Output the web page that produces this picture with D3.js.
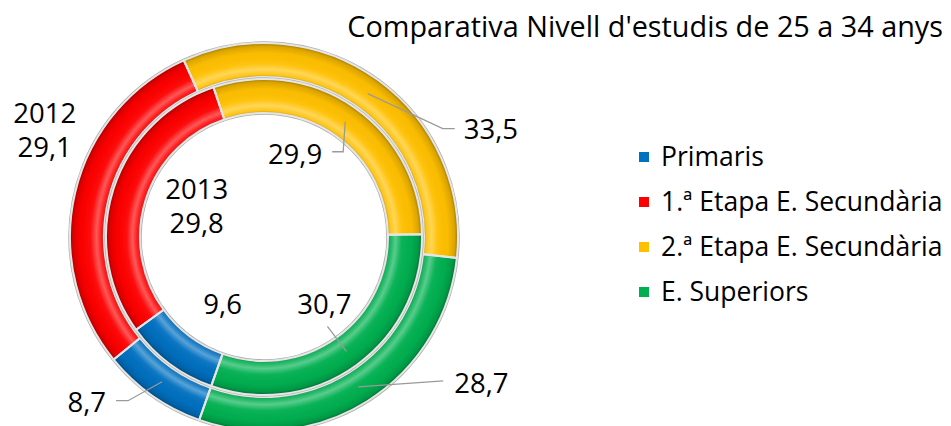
<!DOCTYPE html>
<html>
<head>
<meta charset="utf-8">
<script src="https://cdn.jsdelivr.net/npm/d3@7"></script>
<style>
  html, body { margin: 0; padding: 0; background: #ffffff; }
  svg { display: block; }
  text { font-family: "Open Sans", Lato, sans-serif; fill: #000; font-weight: 500; }
</style>
</head>
<body>
<div id="chart"></div>
<script>
// ---------- data ----------
const title = "Comparativa Nivell d'estudis de 25 a 34 anys";
const categories = ["Primaris", "1.ª Etapa E. Secundària", "2.ª Etapa E. Secundària", "E. Superiors"];
const years = ["2012", "2013"];
const values2012 = [8.7, 29.1, 33.5, 28.7];
const values2013 = [9.6, 29.8, 29.9, 30.7];
const colors = ["#0070C0", "#FF0000", "#FFC000", "#00B050"];

// ---------- layout ----------
const W = 951, H = 426;
const cx = 264, cy = 237;
const startDeg = 199.5;
const labelSize = 27.5, legendSize = 26.5, titleSize = 28.8;
const rings = [
  { year: years[0], values: values2012, rIn: 160, rOut: 194 },
  { year: years[1], values: values2013, rIn: 124, rOut: 158 }
];
// label offsets relative to slice centroid (dx, dy to text anchor/baseline)
const labelLayout = [
  [ // 2012 (outer)
    { dx: -56, dy: 30, anchor: "end", leader: [[-34, 19], [-46, 19]] },
    { dx: -47, dy: -74, anchor: "middle", withYear: true },
    { dx: 96, dy: 45, anchor: "start", leader: [[75, 35], [87, 35]] },
    { dx: 96, dy: 6, anchor: "start", leader: [[85, -6]] }
  ],
  [ // 2013 (inner)
    { dx: 43, dy: -36, anchor: "middle" },
    { dx: 67, dy: 5, anchor: "middle", withYear: true },
    { dx: -23, dy: 42, anchor: "end", leader: [[-2, 30], [-13, 30]] },
    { dx: -22, dy: -37, anchor: "middle", leader: [[-19, -25]] }
  ]
];

const svg = d3.select("#chart").append("svg")
  .attr("width", W).attr("height", H);

const defs = svg.append("defs");
const g = svg.append("g").attr("transform", `translate(${cx},${cy})`);

const toRad = d => d * Math.PI / 180;
const pie = d3.pie().sort(null).value(d => d)
  .startAngle(toRad(startDeg)).endAngle(toRad(startDeg + 360));

const fmt = v => d3.format(".1f")(v).replace(".", ",");

rings.forEach((ring, ri) => {
  const arc = d3.arc().innerRadius(ring.rIn).outerRadius(ring.rOut);
  const arcs = pie(ring.values);

  const gid = "shade" + ri;
  const R = ring.rOut;
  const f = r => (r / R);
  const grad = defs.append("radialGradient").attr("id", gid)
    .attr("gradientUnits", "userSpaceOnUse")
    .attr("cx", 0).attr("cy", 0).attr("r", R);
  const t = ring.rOut - ring.rIn;
  [
    [ring.rIn, "#000", 0.32],
    [ring.rIn + t * 0.08, "#fff", 0.10],
    [ring.rIn + t * 0.22, "#fff", 0.35],
    [ring.rIn + t * 0.40, "#fff", 0.05],
    [ring.rIn + t * 0.70, "#000", 0.02],
    [ring.rIn + t * 0.90, "#000", 0.14],
    [ring.rOut, "#000", 0.38]
  ].forEach(([r, c, o]) => grad.append("stop")
    .attr("offset", f(r)).attr("stop-color", c).attr("stop-opacity", o));

  const rg = g.append("g");
  rg.append("circle").attr("r", ring.rOut + 0.5).attr("fill", "none")
    .attr("stroke", "#b0b0b0").attr("stroke-width", 2.5);
  rg.append("circle").attr("r", ring.rIn - 0.5).attr("fill", "none")
    .attr("stroke", "#b0b0b0").attr("stroke-width", 2.5);

  rg.selectAll("path.slice").data(arcs).join("path")
    .attr("class", "slice")
    .attr("d", arc)
    .attr("fill", (d, i) => colors[i]);
  rg.selectAll("path.shade").data(arcs).join("path")
    .attr("class", "shade")
    .attr("d", arc)
    .attr("fill", `url(#${gid})`);
  rg.selectAll("path.sep").data(arcs).join("path")
    .attr("class", "sep")
    .attr("d", arc)
    .attr("fill", "none")
    .attr("stroke", "#e6e6e6")
    .attr("stroke-width", 2);

  const mid = (ring.rIn + ring.rOut) / 2;
  const cArc = d3.arc().innerRadius(mid).outerRadius(mid);
  arcs.forEach((d, i) => {
    const [px, py] = cArc.centroid(d);
    const L = labelLayout[ri][i];
    if (L.leader) {
      const pts = [[px, py]].concat(L.leader.map(([x, y]) => [px + x, py + y]));
      g.append("path")
        .attr("d", d3.line()(pts))
        .attr("fill", "none")
        .attr("stroke", "#9a9a9a")
        .attr("stroke-width", 1.3);
    }
    const tx = px + L.dx, ty = py + L.dy;
    const txt = g.append("text")
      .attr("x", tx).attr("y", ty)
      .attr("text-anchor", L.anchor)
      .attr("font-size", labelSize);
    if (L.withYear) {
      txt.append("tspan").attr("x", tx).attr("y", ty).text(ring.year);
      txt.append("tspan").attr("x", tx).attr("y", ty + 34).text(fmt(d.data));
    } else {
      txt.text(fmt(d.data));
    }
  });
});

svg.append("text")
  .attr("x", 943).attr("y", 37)
  .attr("text-anchor", "end")
  .attr("font-size", titleSize)
  .text(title);

const lg = svg.append("g").attr("transform", "translate(639,157)");
const items = lg.selectAll("g").data(categories).join("g")
  .attr("transform", (d, i) => `translate(0,${i * 45})`);
items.append("rect").attr("x", 0).attr("y", -5).attr("width", 10).attr("height", 10)
  .attr("fill", (d, i) => colors[i]);
items.append("text").attr("x", 22).attr("y", 9)
  .attr("font-size", legendSize)
  .text(d => d);
</script>
</body>
</html>
